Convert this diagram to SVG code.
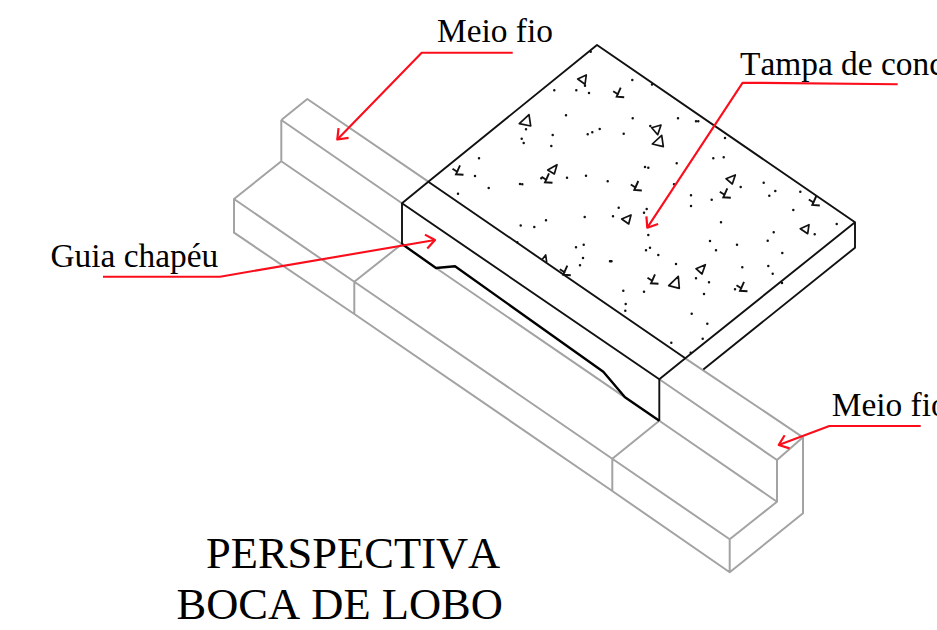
<svg xmlns="http://www.w3.org/2000/svg" xmlns:xlink="http://www.w3.org/1999/xlink" width="937" height="630" viewBox="0 0 937 630">
<style>
.g{fill:none;stroke:#a3a3a3;stroke-width:2;stroke-linejoin:round}
.b{fill:none;stroke:#111;stroke-width:1.9;stroke-linejoin:round}
.bb{fill:none;stroke:#000;stroke-width:2.4;stroke-linejoin:round}
.s{fill:none;stroke:#111;stroke-width:1.7;stroke-linejoin:round}
.d{fill:none;stroke:#111;stroke-width:2.5;stroke-linecap:round}
.r{fill:none;stroke:#fb0d1b;stroke-width:2.1;stroke-linejoin:round}
.t{font-family:"Liberation Serif","Times New Roman",serif;fill:#000;font-kerning:none}
.l{font-size:33.4px}
.h{font-size:44.5px}
</style>
<defs>
<marker id="a" markerUnits="userSpaceOnUse" markerWidth="24" markerHeight="24" refX="12" refY="12" orient="auto" overflow="visible">
<path d="M3,5 L12,12 L3,19" fill="none" stroke="#fb0d1b" stroke-width="2.2" stroke-linejoin="round"/>
</marker>
<path id="k" d="M4,-9 L0,0 L7.5,0.5 M-3.5,-5.5 L2,-2" fill="none" stroke="#111" stroke-width="1.9"/>
</defs>

<g id="guia-e-meio-fio">
<path class="g" d="M281.3,120 L307.3,99 L428.3,181.7 M281.3,120 L402,203.3 M281.3,120 V161.3 L402,244 M281.3,161.3 L234,199 V232.7 L354.3,314 L612.3,491 L729.7,572.3 L803,513.3 V437.3 L685.3,358.3 M234,199 L354.3,281.7 L612.3,458.7 L729.7,539.3 V572.3 M354.3,281.7 V314 M354.3,281.7 L402,244 M436,268 L625,397.3 M612.3,458.7 V491 M612.3,458.7 L659.3,420.7 L777,501.7 L729.7,539.3 M659.3,379.3 L777,460 V501.7 M777,460 L803,437.3"/>
</g>

<g id="tampa">
<path class="b" d="M428.3,181.7 L597,45 L855,222.3 L685.3,358.3 Z M428.3,181.7 L402,203.3 L659.3,379.3 L685.3,358.3 M402,203.3 V244 M659.3,379.3 V420.7 M855,222.3 V247.7 L703.3,369.5"/>
<path class="bb" d="M402,244 L436,268 L455,266.3 L603.3,371.7 L625,397.3 L659.3,420.7"/>
<path class="s" d="M577.7,79 L586.3,75 L585,84.3 Z M519.3,123.7 L529,114.7 L530.7,126 Z M651.7,127.7 L661,125 L657.7,134.7 Z M652.3,144 L661.7,135.3 L663.3,146.7 Z M547.7,170 L557,164.7 L554.3,174 Z M621.7,219 L631,215 L628.7,224 Z M726,178.7 L735.3,175 L732.3,184 Z M800.3,228.7 L809,224.7 L807.7,233.7 Z M696,268.7 L705.3,264.7 L702,274 Z M668.7,285.7 L678.3,276.3 L679.3,288.3 Z M542.3,259.3 L545.7,255 L546.7,262.3"/>
<use xlink:href="#k" href="#k" x="616.7" y="96.7"/>
<use xlink:href="#k" href="#k" x="456" y="174.3"/>
<use xlink:href="#k" href="#k" x="545" y="182.3"/>
<use xlink:href="#k" href="#k" x="634.3" y="190"/>
<use xlink:href="#k" href="#k" x="723.3" y="197.3"/>
<use xlink:href="#k" href="#k" x="812.3" y="205"/>
<use xlink:href="#k" href="#k" x="651" y="283.3"/>
<use xlink:href="#k" href="#k" x="740" y="290.8"/>
<use xlink:href="#k" href="#k" x="563.3" y="274.7"/>
<path class="d" d="M590.7,51.7h0M585,85.7h0M576.3,90.3h0M589,93h0M554.3,90.3h0M632.3,80h0M652,84.5h0M566,115.3h0M632.7,118.3h0M678,118.3h0M696,121.3h0M698.3,121.3h0M526,129.3h0M521.7,138.7h0M523.7,143h0M552.7,135h0M551.3,146h0M587.7,134.3h0M592.3,132.3h0M599.7,129h0M623.7,133.7h0M650.3,126h0M479,158.3h0M645,167h0M648.3,167.7h0M676.7,163.3h0M475,176h0M488.7,188h0M458,193.7h0M520,184h0M522.3,184.3h0M541.3,178.3h0M567,177.7h0M586,175.7h0M607.7,181.3h0M674,184.3h0M691,195.3h0M691,206h0M618.7,207.7h0M646.7,209h0M644,212.7h0M613,216.3h0M584.7,217h0M546,220.3h0M520.7,225.5h0M534.3,227h0M648.3,235h0M725,138h0M713.3,158.3h0M723.7,157.3h0M740.7,187h0M763.7,182.7h0M775.3,191h0M769.3,195.7h0M800.3,191.7h0M711.7,199.7h0M793.3,210h0M836.7,224h0M814.7,234.3h0M721,222.3h0M773.7,232.3h0M767.7,240.7h0M710,241h0M737,244.7h0M716,250.3h0M782.3,253h0M650,247.7h0M646,250.3h0M658.3,255h0M742.3,267.3h0M768.3,266h0M772.7,273.7h0M696,278.3h0M709,282.3h0M704,294h0M735,289.3h0M782,283h0M691.7,313.7h0M707.3,323.7h0M702.7,338.7h0M517.3,242.3h0M576,247.3h0M583.7,244.7h0M583,258h0M580,265.3h0M610,261.3h1.5M676,264h0M623.3,290.7h0M644,291.7h0M625.7,304h0M625.3,310.7h0M671.3,342.7h0M690.7,352.7h0"/>
</g>

<g id="connectors">
<path class="r" marker-end="url(#a)" d="M512.7,52.7 H421.7 L337.3,139.5"/>
<path class="r" marker-end="url(#a)" d="M897.7,84.3 L742.7,82.7 L647.3,227.7"/>
<path class="r" marker-end="url(#a)" d="M103,276.7 H220 L435,240"/>
<path class="r" marker-end="url(#a)" d="M920.7,426 H829.3 L778.7,445"/>
</g>

<g id="label-meio-fio-1"><text class="t l" x="437" y="42.3">Meio fio</text></g>
<g id="label-tampa"><text class="t l" x="740" y="75">Tampa de conc</text></g>
<g id="label-guia"><text class="t l" x="50.5" y="267.3">Guia chapéu</text></g>
<g id="label-meio-fio-2"><text class="t l" x="831.7" y="416">Meio fio</text></g>
<g id="titulo">
<text class="t h" x="206" y="567.7">PERSPECTIVA</text>
<text class="t h" x="176.5" y="619.3">BOCA DE LOBO</text>
</g>
</svg>
